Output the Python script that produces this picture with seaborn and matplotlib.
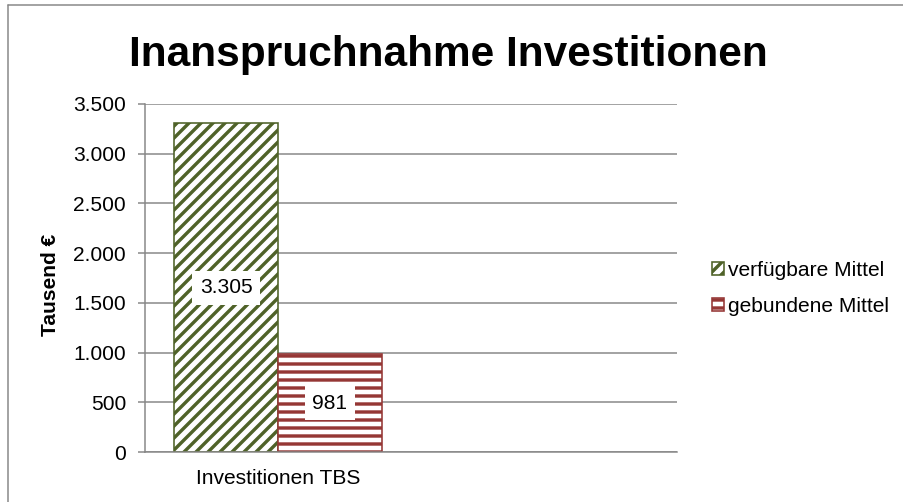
import matplotlib
matplotlib.use("Agg")
import matplotlib.pyplot as plt
from matplotlib.lines import Line2D
import seaborn as sns
import pandas as pd

# ---- data ----
categories = ["Investitionen TBS", ""]
series_names = ["verfügbare Mittel", "gebundene Mittel"]
series_values = [3305, 981]
y_ticks = [0, 500, 1000, 1500, 2000, 2500, 3000, 3500]
y_tick_labels = ["0", "500", "1.000", "1.500", "2.000", "2.500", "3.000", "3.500"]
title = "Inanspruchnahme Investitionen"
y_label = "Tausend €"

df = pd.DataFrame({
    "Kategorie": [categories[0]] * len(series_names),
    "Serie": series_names,
    "Wert": series_values,
})

sns.set_theme(style="white")
plt.rcParams["font.family"] = ["Liberation Sans", "DejaVu Sans"]
plt.rcParams["hatch.linewidth"] = 1.7
plt.rcParams["text.color"] = "black"
plt.rcParams["xtick.color"] = "black"
plt.rcParams["ytick.color"] = "black"

DPI = 144
fig = plt.figure(figsize=(903 / DPI, 502 / DPI), dpi=DPI)
ax = fig.add_axes([145 / 903, 1 - 452 / 502, (677 - 145) / 903, (452 - 104) / 502])

green = "#4F6228"
red = "#953735"
grid_c = "#868686"

sns.barplot(data=df, x="Kategorie", y="Wert", hue="Serie", order=categories,
            hue_order=series_names, width=0.78, ax=ax, legend=False,
            palette=["white", "white"], saturation=1)

hatches = ["////", "---"]
edge_colors = [green, red]
for cont, h, ec in zip(ax.containers, hatches, edge_colors):
    for p in cont:
        p.set_facecolor("white")
        p.set_edgecolor(ec)
        p.set_hatch(h)
        p.set_linewidth(0.8)
    ax.bar_label(cont, labels=[f"{v:,.0f}".replace(",", ".") for v in cont.datavalues],
                 label_type="center", fontsize=10.5, color="black",
                 bbox=dict(boxstyle="square,pad=0.35", fc="white", ec="none"))

ax.set_xlim(-0.5, 1.5)
ax.set_ylim(0, 3500)
ax.set_yticks(y_ticks)
ax.set_yticklabels(y_tick_labels)
ax.yaxis.grid(True, color=grid_c, linewidth=0.75)
ax.set_axisbelow(True)
ax.set_xlabel("")
ax.set_ylabel("")

ax.set_xticks([0])
ax.set_xticklabels([categories[0]])
ax.set_xticks([-0.5, 0.5, 1.5], minor=True)
ax.tick_params(axis="x", which="major", length=0, pad=8.5, labelsize=10.5, labelcolor="black")
ax.tick_params(axis="x", which="minor", length=3.5, width=0.75, color=grid_c)
ax.tick_params(axis="y", which="major", length=3.5, width=0.75, color=grid_c, pad=6,
               labelsize=10.5, labelcolor="black", left=True)

for s in ["top", "right"]:
    ax.spines[s].set_visible(False)
for s in ["left", "bottom"]:
    ax.spines[s].set_color(grid_c)
    ax.spines[s].set_linewidth(0.75)

ax.legend(handles=list(ax.containers), labels=series_names, loc="center left",
          bbox_to_anchor=(712 / 903, 1 - 288.5 / 502), bbox_transform=fig.transFigure,
          frameon=False, fontsize=10.5, handlelength=0.55, handleheight=0.55,
          handletextpad=0.2, labelspacing=0.8, borderpad=0, borderaxespad=0,
          labelcolor="black")

fig.text(448.5 / 903, 1 - 66 / 502, title, ha="center", va="baseline",
         fontsize=21.2, fontweight="bold", color="black")
fig.text(50 / 903, 1 - 285 / 502, y_label, ha="center", va="center",
         rotation=90, fontsize=10.5, fontweight="bold", color="black")

# outer chart border (top and left visible)
fig.add_artist(Line2D([8 / 903, 1.0], [1 - 5 / 502, 1 - 5 / 502],
                      transform=fig.transFigure, color=grid_c, linewidth=0.75))
fig.add_artist(Line2D([8 / 903, 8 / 903], [0.0, 1 - 5 / 502],
                      transform=fig.transFigure, color=grid_c, linewidth=0.75))

fig.savefig("out.png", dpi=DPI, facecolor="white")
